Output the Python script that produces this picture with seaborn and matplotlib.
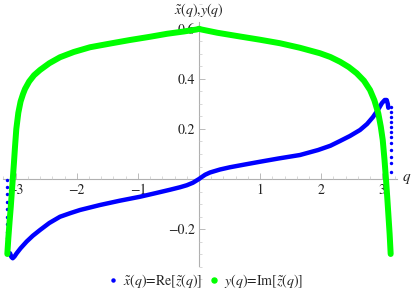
import matplotlib
matplotlib.use("Agg")
import matplotlib.pyplot as plt
import seaborn as sns
from matplotlib.lines import Line2D

# x~(q) = Re[z~(q)]
q_re = [-3.093, -3.07, -3.049, -3.02, -2.984, -2.92, -2.82, -2.72, -2.602, -2.45,
        -2.275, -2.10, -1.948, -1.62, -1.30, -0.966, -0.70, -0.475, -0.311, -0.20,
        -0.10, -0.04, 0.0, 0.04, 0.10, 0.18, 0.344, 0.507, 0.75, 0.998, 1.30, 1.653,
        1.95, 2.15, 2.308, 2.47, 2.635, 2.75, 2.848, 2.93, 2.995, 3.04, 3.072, 3.09, 3.098]
x_re = [-0.297, -0.312, -0.317, -0.31, -0.297, -0.277, -0.25, -0.227, -0.204, -0.176,
        -0.151, -0.136, -0.124, -0.104, -0.087, -0.071, -0.056, -0.043, -0.033, -0.025,
        -0.015, -0.006, 0.0, 0.007, 0.017, 0.026, 0.038, 0.047, 0.058, 0.069, 0.082, 0.096,
        0.116, 0.133, 0.152, 0.172, 0.196, 0.22, 0.248, 0.277, 0.304, 0.316, 0.316, 0.30, 0.285]
# sparse points where the curve jumps at q = -pi and q = pi
q_jump_left = [-3.137] * 11
x_jump_left = [-0.005, -0.03, -0.06, -0.09, -0.12, -0.15, -0.18, -0.21, -0.235, -0.26, -0.28]
q_jump_right = [3.137] * 12
x_jump_right = [0.289, 0.269, 0.249, 0.229, 0.209, 0.189, 0.169, 0.143, 0.116, 0.089, 0.063, 0.029]

# y(q) = Im[z~(q)]
q_im = [-3.137, -3.12, -3.10, -3.08, -3.06, -3.049, -3.03, -3.011, -2.99, -2.957,
        -2.92, -2.88, -2.848, -2.78, -2.70, -2.602, -2.45, -2.275, -2.05, -1.784,
        -1.45, -1.129, -0.80, -0.52, -0.25, -0.04, 0.0, 0.04, 0.30, 0.671, 1.0, 1.326,
        1.65, 1.98, 2.15, 2.308, 2.45, 2.581, 2.70, 2.799, 2.87, 2.934, 2.975, 3.007,
        3.035, 3.06, 3.08, 3.098, 3.12, 3.137]
y_im = [-0.30, -0.235, -0.17, -0.11, -0.04, -0.004, 0.06, 0.13, 0.20, 0.265,
        0.31, 0.34, 0.36, 0.39, 0.415, 0.436, 0.463, 0.487, 0.508, 0.527,
        0.542, 0.556, 0.569, 0.581, 0.590, 0.598, 0.601, 0.598, 0.585, 0.570, 0.557, 0.543,
        0.525, 0.503, 0.488, 0.469, 0.448, 0.423, 0.393, 0.356, 0.315, 0.263, 0.21, 0.156,
        0.08, 0.0, -0.07, -0.137, -0.22, -0.30]

x_ticks = [-3, -2, -1, 1, 2, 3]
y_ticks = [-0.2, 0.2, 0.4, 0.6]

BLUE = "#0000ff"
GREEN = "#00ff00"

sns.set_theme(style="white")
plt.rcParams["font.family"] = ["STIXGeneral", "DejaVu Serif"]
plt.rcParams["mathtext.fontset"] = "stix"

fig = plt.figure(figsize=(4.11, 2.91), dpi=100)
ax = fig.add_axes([0, 0, 1, 1])
ax.patch.set_alpha(0)

# blue curve + the jump dots
sns.lineplot(x=q_re, y=x_re, sort=False, estimator=None, color=BLUE,
             linewidth=3.2, solid_capstyle="round", solid_joinstyle="round", ax=ax)
sns.scatterplot(x=q_jump_left + q_jump_right, y=x_jump_left + x_jump_right,
                color=BLUE, s=6, linewidth=0, ax=ax)
# green curve on top
sns.lineplot(x=q_im, y=y_im, sort=False, estimator=None, color=GREEN,
             linewidth=4.3, solid_capstyle="round", solid_joinstyle="round", ax=ax)

# pixel mapping from the reference: px = 199 + 61.1 q, py = 179 - 250 v
ax.set_xlim(-199 / 61.1, 212 / 61.1)
ax.set_ylim(-112 / 250, 179 / 250)

# axes through the origin, Mathematica style
for side in ["top", "right"]:
    ax.spines[side].set_visible(False)
ax.spines["left"].set_position(("data", 0))
ax.spines["bottom"].set_position(("data", 0))
ax.spines["left"].set_bounds(-0.348, 0.628)
ax.spines["bottom"].set_bounds(-3.21, 3.24)
for side in ["left", "bottom"]:
    ax.spines[side].set_color("#b0b0b0")
    ax.spines[side].set_linewidth(0.8)
    ax.spines[side].set_zorder(0)

ax.set_xticks(x_ticks)
ax.set_xticklabels([f"{t}".replace("-", "\u2212") for t in x_ticks])
ax.set_yticks(y_ticks)
ax.set_yticklabels([f"{t:.1f}".replace("-", "\u2212") for t in y_ticks])
ax.xaxis.set_minor_locator(plt.MultipleLocator(0.2))
ax.yaxis.set_minor_locator(plt.MultipleLocator(0.05))
ax.tick_params(axis="x", which="major", direction="in", length=4, width=0.6,
               color="#b0b0b0", labelsize=10, pad=3, labelcolor="#222222")
ax.tick_params(axis="y", which="major", direction="in", length=4, width=0.6,
               color="#b0b0b0", labelsize=10, pad=3, labelcolor="#222222")
ax.tick_params(which="minor", direction="in", length=2, width=0.5, color="#c8c8c8")
ax.tick_params(axis="x", which="both", bottom=True)
ax.tick_params(axis="y", which="both", left=True)

ax.text(199 / 411, 1 - 10 / 291, r"$\tilde{x}(q)$,$y(q)$", transform=fig.transFigure,
        ha="center", va="center", fontsize=10, color="#222222")
ax.text(407 / 411, 1 - 179 / 291, r"$q$", transform=fig.transFigure,
        ha="center", va="center", fontsize=11, color="#222222")

handles = [
    Line2D([], [], linestyle="none", marker="o", markersize=2.2, color=BLUE),
    Line2D([], [], linestyle="none", marker="o", markersize=3.6, color=GREEN),
]
labels = [r"$\tilde{x}(q)$=Re[$\tilde{z}(q)$]", r"$y(q)$=Im[$\tilde{z}(q)$]"]
fig.legend(handles, labels, loc="center", bbox_to_anchor=(206 / 411, 1 - 281 / 291),
           ncol=2, frameon=False, fontsize=10, handlelength=0.6, handletextpad=0.4,
           columnspacing=0.6, labelcolor="#222222")

fig.savefig("out.png", dpi=100)
